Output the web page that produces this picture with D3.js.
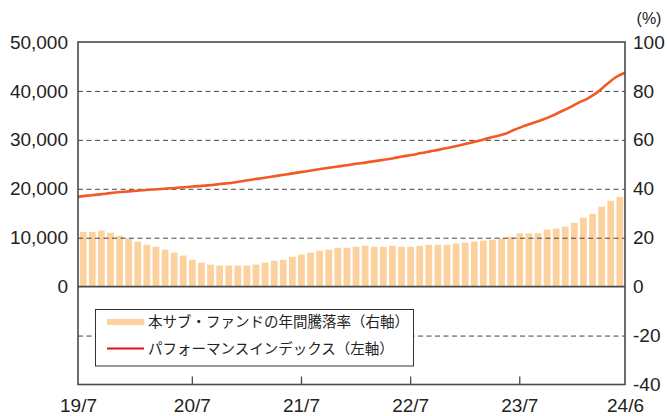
<!DOCTYPE html>
<html><head><meta charset="utf-8">
<script src="https://cdn.jsdelivr.net/npm/d3@7/dist/d3.min.js"></script>
<style>
body{margin:0;background:#fff;}
svg{display:block;}
</style></head>
<body><svg id="c" width="667" height="416"></svg>
<script>
const months = ["19/7","19/8","19/9","19/10","19/11","19/12","20/1","20/2","20/3","20/4","20/5","20/6",
"20/7","20/8","20/9","20/10","20/11","20/12","21/1","21/2","21/3","21/4","21/5","21/6",
"21/7","21/8","21/9","21/10","21/11","21/12","22/1","22/2","22/3","22/4","22/5","22/6",
"22/7","22/8","22/9","22/10","22/11","22/12","23/1","23/2","23/3","23/4","23/5","23/6",
"23/7","23/8","23/9","23/10","23/11","23/12","24/1","24/2","24/3","24/4","24/5","24/6"];
// 本サブ・ファンドの年間騰落率 (%), right axis
const annualReturn = [22.4,22.4,22.9,22.0,20.8,19.7,18.4,17.1,16.3,15.1,13.9,12.7,
11.0,9.8,9.0,8.6,8.6,8.6,8.6,9.0,9.8,10.6,11.0,12.2,
13.1,13.9,14.7,15.1,15.9,15.9,16.3,16.7,16.3,16.3,16.7,16.3,
16.3,16.7,17.1,17.1,17.1,17.6,18.0,18.4,18.8,19.2,19.7,20.4,
21.8,21.8,21.8,23.3,23.7,24.5,26.1,28.2,29.8,32.7,35.1,36.7];
// パフォーマンスインデックス, left axis
const perfIndex = [18350,18600,18800,19000,19250,19400,19550,19700,19850,19950,20100,20250,
20400,20550,20700,20900,21100,21350,21650,21950,22200,22500,22800,23100,
23400,23700,24000,24300,24550,24800,25100,25350,25650,25950,26250,26600,
26900,27300,27650,28000,28400,28800,29250,29700,30200,30700,31200,32000,
32750,33400,34050,34800,35700,36600,37600,38500,39700,41300,42800,43700];
const leftTicks = [0,10000,20000,30000,40000,50000];
const rightTicks = [-40,-20,0,20,40,60,80,100];
const gridTicks = [-20,20,40,60,80];
const midTickLabels = ["20/7","21/7","22/7","23/7"];
const legendLabels = ["本サブ・ファンドの年間騰落率（右軸）","パフォーマンスインデックス（左軸）"];

const L=78, R=625, T=42, B=384.5;
const svg = d3.select("#c");
const yL = d3.scaleLinear().domain([-20000,50000]).range([B,T]);
const yR = d3.scaleLinear().domain([-40,100]).range([B,T]);
const xb = d3.scaleBand().domain(months).range([L,R]).paddingInner(0.26).paddingOuter(0.2);
const xl = d3.scaleLinear().domain([0,months.length-1]).range([L,R]);

const numFont = "'Liberation Sans', Arial, Helvetica, sans-serif";

// bars
svg.append("g").selectAll("rect").data(annualReturn).join("rect")
  .attr("x",(d,i)=>xb(months[i])).attr("width",xb.bandwidth())
  .attr("y",d=>yR(Math.max(0,d))).attr("height",d=>Math.abs(yR(d)-yR(0)))
  .attr("fill","#fdd19d");

// grid lines
svg.append("g").selectAll("line").data(gridTicks).join("line")
  .attr("x1",L).attr("x2",R).attr("y1",d=>yR(d)+0.5).attr("y2",d=>yR(d)+0.5)
  .attr("stroke","#444").attr("stroke-width",1).attr("stroke-dasharray","5,3.5");

// zero line
svg.append("line").attr("x1",L).attr("x2",R).attr("y1",yR(0)).attr("y2",yR(0))
  .attr("stroke","#4a4a4a").attr("stroke-width",1.6);

// line
const line = d3.line().x((d,i)=>xl(i)).y(d=>yL(d)).curve(d3.curveMonotoneX);
svg.append("path").datum(perfIndex).attr("d",line).attr("fill","none")
  .attr("stroke","#f15a24").attr("stroke-width",2.6).attr("stroke-linejoin","round");

// frame
svg.append("rect").attr("x",L).attr("y",T).attr("width",R-L).attr("height",B-T)
  .attr("fill","none").attr("stroke","#4a4a4a").attr("stroke-width",1.6);

// bottom ticks (inward) at mid months
const axB = d3.axisBottom(xb).tickValues(midTickLabels).tickSizeInner(-8).tickSizeOuter(0).tickPadding(12);
const gB = svg.append("g").attr("transform",`translate(0,${B})`).call(axB);
gB.select(".domain").remove();
gB.selectAll(".tick line").attr("stroke","#4a4a4a").attr("stroke-width",1.3);
gB.selectAll(".tick text").attr("dy","0").attr("y",27);
// edge labels
const axE = d3.axisBottom(xl).tickValues([0,months.length-1]).tickSize(0).tickFormat(i=>months[i]);
const gE = svg.append("g").attr("transform",`translate(0,${B})`).call(axE);
gE.select(".domain").remove();
gE.selectAll(".tick text").attr("dy","0").attr("y",27);
[gB,gE].forEach(g=>g.selectAll("text").attr("font-family",numFont).attr("font-size",19).attr("fill","#222"));

// left axis
const gL = svg.append("g").attr("transform",`translate(${L},0)`)
  .call(d3.axisLeft(yL).tickValues(leftTicks).tickSize(0).tickPadding(10).tickFormat(d3.format(",")));
gL.select(".domain").remove();
gL.selectAll("text").attr("font-family",numFont).attr("font-size",19).attr("fill","#222");

// right axis
const gR = svg.append("g").attr("transform",`translate(${R},0)`)
  .call(d3.axisRight(yR).tickValues(rightTicks).tickSize(0).tickPadding(8).tickFormat(d=>String(d)));
gR.select(".domain").remove();
gR.selectAll("text").attr("font-family",numFont).attr("font-size",19).attr("fill","#222");

svg.append("text").attr("x",649).attr("y",24).attr("text-anchor","middle")
  .attr("font-family",numFont).attr("font-size",16).attr("fill","#222").text("(%)");

// legend
const lg = svg.append("g");
lg.append("rect").attr("x",95.5).attr("y",309.5).attr("width",318).attr("height",56.5)
  .attr("fill","#fff").attr("stroke","#333").attr("stroke-width",1);
lg.append("rect").attr("x",107).attr("y",319).attr("width",37).attr("height",6).attr("fill","#fdd19d");
lg.append("line").attr("x1",107).attr("x2",144).attr("y1",348.5).attr("y2",348.5)
  .attr("stroke","#e60d1e").attr("stroke-width",2);
lg.selectAll("text").data(legendLabels).join("text")
  .attr("x",148).attr("y",(d,i)=>327+i*27)
  .attr("font-family","'Noto Sans CJK JP', sans-serif").attr("font-size",14.5).attr("fill","#222")
  .text(d=>d);
</script></body></html>
